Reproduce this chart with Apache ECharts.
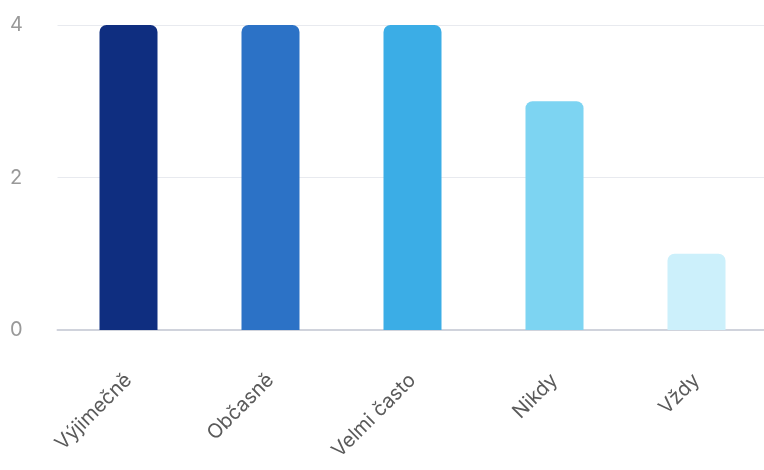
<!DOCTYPE html>
<html><head><meta charset="utf-8">
<script src="https://cdn.jsdelivr.net/npm/echarts@6/dist/echarts.min.js"></script>
<style>html,body{margin:0;padding:0;background:#fff}#c{width:764px;height:470px}</style>
</head><body><div id="c"></div>
<script>
const categories = ['Výjimečně', 'Občasně', 'Velmi často', 'Nikdy', 'Vždy'];
const values = [4, 4, 4, 3, 1];
const colors = ['#0f2e80', '#2c72c6', '#3bade6', '#7dd4f2', '#ccf0fb'];
const yTicks = [0, 2, 4];

const chart = echarts.init(document.getElementById('c'), null, {renderer: 'canvas'});
chart.setOption({
  animation: false,
  grid: {left: 57.5, width: 710, top: 25, bottom: 140, outerBoundsMode: 'none', containLabel: false},
  xAxis: {
    type: 'category', data: categories,
    axisLine: {show: true, lineStyle: {color: '#d0d3dc', width: 2}},
    axisTick: {show: false},
    axisLabel: {rotate: 45, margin: 47, fontSize: 20, color: '#5a5a5a', fontFamily: 'Inter'}
  },
  yAxis: {
    type: 'value', min: 0, max: 4, interval: 2,
    axisLine: {show: false}, axisTick: {show: false},
    splitLine: {lineStyle: {color: '#e8eaef', width: 1}},
    axisLabel: {fontSize: 20, color: '#999', margin: 47.5, align: 'left', fontFamily: 'Inter',
      formatter: v => yTicks.includes(v) ? String(v) : ''}
  },
  series: [{
    type: 'bar', barWidth: 58,
    data: values.map((v, i) => ({value: v, itemStyle: {color: colors[i], borderRadius: [7, 7, 0, 0]}}))
  }]
});
</script></body></html>
